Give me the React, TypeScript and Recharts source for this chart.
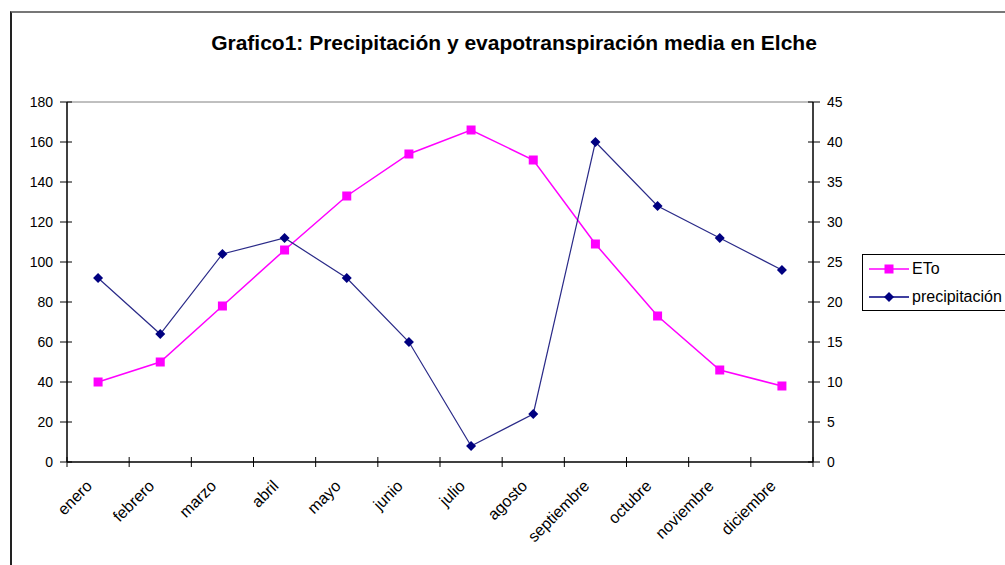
import { LineChart, Line, XAxis, YAxis, ReferenceLine } from "recharts";

const months = [
  "enero",
  "febrero",
  "marzo",
  "abril",
  "mayo",
  "junio",
  "julio",
  "agosto",
  "septiembre",
  "octubre",
  "noviembre",
  "diciembre",
];

const eto = [40, 50, 78, 106, 133, 154, 166, 151, 109, 73, 46, 38];
const precipitacion = [23, 16, 26, 28, 23, 15, 2, 6, 40, 32, 28, 24];

const leftTicks = [0, 20, 40, 60, 80, 100, 120, 140, 160, 180];
const rightTicks = [0, 5, 10, 15, 20, 25, 30, 35, 40, 45];

// integer ticks = band edges (tick marks), half ticks = band centers (labels)
const xTicks = Array.from({ length: 25 }, (_, i) => i / 2);

const data = months.map((m, i) => ({
  x: i + 0.5,
  month: m,
  eto: eto[i],
  prec: precipitacion[i],
}));

const FONT = "'Liberation Sans', Arial, sans-serif";
const TS = 7;
const TM = 7;

const LeftTick = (props: any) => {
  const { x, y, payload } = props;
  const ax = x + TS + TM;
  return (
    <g>
      <line x1={ax - 7} x2={ax + 5} y1={y} y2={y} stroke="#000" />
      <text x={x} y={y} dy={5} textAnchor="end" fontSize={14} fontFamily={FONT} fill="#000">
        {payload.value}
      </text>
    </g>
  );
};

const RightTick = (props: any) => {
  const { x, y, payload } = props;
  const ax = x - TS - TM;
  return (
    <g>
      <line x1={ax - 5} x2={ax + 7} y1={y} y2={y} stroke="#000" />
      <text x={x} y={y} dy={5} textAnchor="start" fontSize={14} fontFamily={FONT} fill="#000">
        {payload.value}
      </text>
    </g>
  );
};

const MonthTick = (props: any) => {
  const { x, y, payload } = props;
  const v = payload.value as number;
  const ay = y - TS - TM;
  if (Number.isInteger(v)) {
    return <line x1={x} x2={x} y1={ay - 5} y2={ay + 5} stroke="#000" />;
  }
  const lx = x - 5;
  const ly = ay + 25;
  return (
    <text
      x={lx}
      y={ly}
      textAnchor="end"
      fontSize={16}
      fontFamily={FONT}
      fill="#000"
      transform={`rotate(-45 ${lx} ${ly})`}
    >
      {months[Math.floor(v)]}
    </text>
  );
};

const Square = (props: any) => {
  const { cx, cy, index } = props;
  return <rect key={`s${index}`} x={cx - 4.5} y={cy - 4.5} width={9} height={9} fill="#FF00FF" />;
};

const Diamond = (props: any) => {
  const { cx, cy, index } = props;
  return (
    <polygon
      key={`d${index}`}
      points={`${cx},${cy - 5} ${cx + 5},${cy} ${cx},${cy + 5} ${cx - 5},${cy}`}
      fill="#000080"
    />
  );
};

const App = () => {
  return (
    <div
      style={{
        position: "absolute",
        left: 0,
        top: 0,
        width: 1005,
        height: 565,
        overflow: "hidden",
        background: "#fff",
        fontFamily: FONT,
      }}
    >
      <div
        style={{
          position: "absolute",
          left: 10,
          top: 11,
          width: 1100,
          height: 700,
          borderLeft: "2px solid #222",
          borderTop: "2px solid #777",
        }}
      />
      <div
        style={{
          position: "absolute",
          left: 10,
          top: 31,
          width: 1008,
          textAlign: "center",
          fontSize: 21,
          fontWeight: "bold",
          lineHeight: "24px",
          color: "#000",
        }}
      >
        Grafico1: Precipitación y evapotranspiración media en Elche
      </div>
      <div style={{ position: "absolute", left: 0, top: 0 }}>
        <LineChart
          width={1005}
          height={565}
          data={data}
          margin={{ top: 102, right: 132, bottom: 3, left: 7 }}
        >
          <XAxis
            xAxisId="x"
            dataKey="x"
            type="number"
            domain={[0, 12]}
            ticks={xTicks}
            interval={0}
            height={100}
            tickSize={TS}
            tickMargin={TM}
            tickLine={false}
            axisLine={{ stroke: "#000", strokeWidth: 1.5 }}
            tick={<MonthTick />}
          />
          <YAxis
            yAxisId="left"
            domain={[0, 180]}
            ticks={leftTicks}
            interval={0}
            width={60}
            tickSize={TS}
            tickMargin={TM}
            tickLine={false}
            axisLine={{ stroke: "#000", strokeWidth: 1.5 }}
            tick={<LeftTick />}
          />
          <YAxis
            yAxisId="right"
            orientation="right"
            domain={[0, 45]}
            ticks={rightTicks}
            interval={0}
            width={60}
            tickSize={TS}
            tickMargin={TM}
            tickLine={false}
            axisLine={{ stroke: "#000", strokeWidth: 1.5 }}
            tick={<RightTick />}
          />
          <ReferenceLine xAxisId="x" yAxisId="left" y={180} stroke="#808080" strokeWidth={1} />
          <Line
            xAxisId="x"
            yAxisId="left"
            dataKey="eto"
            stroke="#FF00FF"
            strokeWidth={1.5}
            dot={<Square />}
            isAnimationActive={false}
          />
          <Line
            xAxisId="x"
            yAxisId="right"
            dataKey="prec"
            stroke="#2a2a88"
            strokeWidth={1.2}
            dot={<Diamond />}
            isAnimationActive={false}
          />
        </LineChart>
      </div>
      <div
        style={{
          position: "absolute",
          left: 862,
          top: 254,
          width: 200,
          height: 55,
          border: "1px solid #000",
          background: "#fff",
          fontSize: 16,
          color: "#000",
        }}
      >
        {[
          { label: "ETo", color: "#FF00FF", shape: "square" },
          { label: "precipitación", color: "#000080", shape: "diamond" },
        ].map((e, i) => (
          <div
            key={e.label}
            style={{
              position: "absolute",
              left: 6,
              top: 4 + i * 28,
              height: 20,
              display: "flex",
              alignItems: "center",
              whiteSpace: "nowrap",
            }}
          >
            <svg width={40} height={18}>
              <line x1={0} x2={40} y1={9} y2={9} stroke={e.color} strokeWidth={1.5} />
              {e.shape === "square" ? (
                <rect x={15.5} y={4.5} width={9} height={9} fill={e.color} />
              ) : (
                <polygon points="20,4 25,9 20,14 15,9" fill={e.color} />
              )}
            </svg>
            <span style={{ marginLeft: 3 }}>{e.label}</span>
          </div>
        ))}
      </div>
    </div>
  );
};

export default App;
